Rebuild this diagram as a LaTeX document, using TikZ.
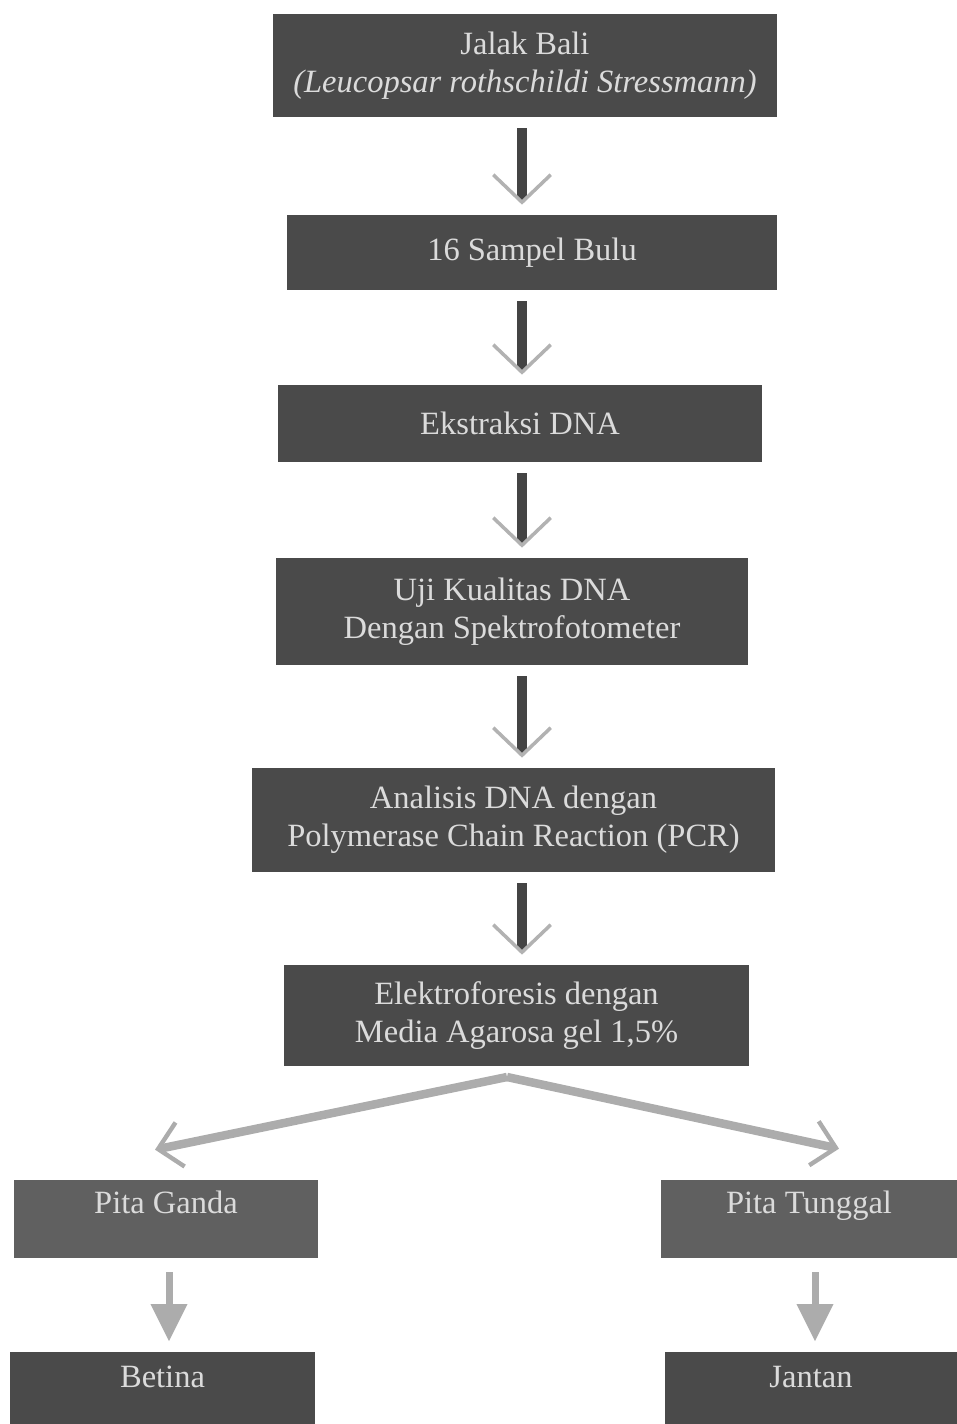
\documentclass[tikz,border=0pt]{standalone}
\usepackage{fontspec}
\setmainfont{Liberation Serif}
\usetikzlibrary{arrows.meta}
\definecolor{boxgray}{RGB}{74,74,74}
\definecolor{pitagray}{RGB}{96,96,96}
\definecolor{shaftgray}{RGB}{68,68,68}
\tikzset{
  procbox/.style={fill=boxgray, text=white!86!black, align=center, inner sep=0pt,
    font=\fontsize{18.5}{21.5}\selectfont},
  downarrow/.style={shaftgray, line width=0.2cm, shorten <=0.22cm, shorten >=0.2cm,
    -{Straight Barb[length=0.55cm,width=1.15cm,line width=2pt,color=gray!60]}},
  splitarrow/.style={gray!65, line width=0.17cm,
    -{Straight Barb[length=0.45cm,width=0.9cm,line width=2.5pt]}},
  smallarrow/.style={gray!65, line width=0.14cm, shorten <=0.28cm, shorten >=0.2cm,
    -{Triangle[length=0.75cm,width=0.7cm]}},
}
\begin{document}
\begin{tikzpicture}[x=0.02cm, y=-0.02cm]
    \useasboundingbox (0,0) rectangle (957,1424);
    % main column
    \node[procbox, minimum width=10.08cm, minimum height=2.06cm] (jalak) at (525,65.5)
        {Jalak Bali\\\textit{(Leucopsar rothschildi Stressmann)}};
    \node[procbox, minimum width=9.8cm, minimum height=1.5cm] (sampel) at (532,252.5)
        {16 Sampel Bulu};
    \node[procbox, minimum width=9.68cm, minimum height=1.54cm] (ekstraksi) at (520,423.5)
        {Ekstraksi DNA};
    \node[procbox, minimum width=9.44cm, minimum height=2.14cm] (uji) at (512,611.5)
        {Uji Kualitas DNA\\Dengan Spektrofotometer};
    \node[procbox, minimum width=10.46cm, minimum height=2.08cm] (analisis) at (513.5,820)
        {Analisis DNA dengan\\Polymerase Chain Reaction (PCR)};
    \node[procbox, minimum width=9.3cm, minimum height=2.02cm] (elektro) at (516.5,1015.5)
        {Elektroforesis dengan\\Media Agarosa gel 1,5\%};
    % two branches
    \node[procbox, fill=pitagray, minimum width=6.08cm, minimum height=1.56cm,
        text height=0.45cm, text depth=0.69cm] (ganda) at (166,1219) {Pita Ganda};
    \node[procbox, fill=pitagray, minimum width=5.92cm, minimum height=1.56cm,
        text height=0.45cm, text depth=0.69cm] (tunggal) at (809,1219) {Pita Tunggal};
    \node[procbox, minimum width=6.1cm, minimum height=1.44cm,
        text height=0.45cm, text depth=0.49cm] (betina) at (162.5,1388) {Betina};
    \node[procbox, minimum width=5.84cm, minimum height=1.44cm,
        text height=0.45cm, text depth=0.49cm] (jantan) at (811,1388) {Jantan};
    % arrows down the column
    \coordinate (spine) at (522,0);
    \foreach \a/\b in {jalak/sampel, sampel/ekstraksi, ekstraksi/uji, uji/analisis, analisis/elektro} {
        \draw[downarrow] (\a.south -| spine) -- (\b.north -| spine);
    }
    % split
    \coordinate (apex) at (507,1077);
    \draw[splitarrow] (apex) -- ([xshift=-0.22cm,yshift=0.6cm]ganda.north);
    \draw[splitarrow] (apex) -- ([xshift=0.6cm,yshift=0.62cm]tunggal.north);
    % results
    \draw[smallarrow] ([xshift=0.06cm]ganda.south) -- ([xshift=0.06cm]ganda.south |- betina.north);
    \draw[smallarrow] ([xshift=0.12cm]tunggal.south) -- ([xshift=0.12cm]tunggal.south |- jantan.north);
\end{tikzpicture}
\end{document}
